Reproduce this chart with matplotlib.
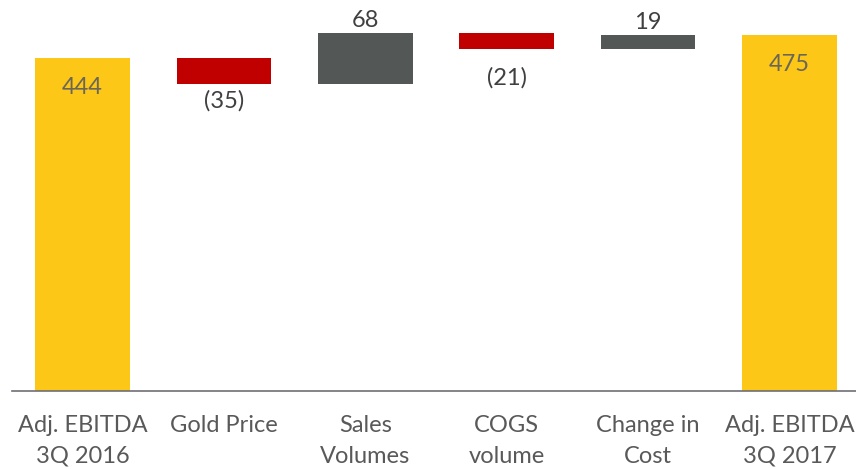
import matplotlib.pyplot as plt
import numpy as np

categories = ["Adj. EBITDA\n3Q 2016", "Gold Price", "Sales\nVolumes",
              "COGS\nvolume", "Change in\nCost", "Adj. EBITDA\n3Q 2017"]
start_total = 444
changes = [-35, 68, -21, 19]
end_total = 475
kinds = ["total", "delta", "delta", "delta", "delta", "total"]

YELLOW = "#FCC716"
RED = "#C00000"
GREY = "#535756"
TEXT = "#595959"

plt.rcParams["font.family"] = ["Lato", "DejaVu Sans"]

# waterfall geometry: bottoms and heights
values = [start_total] + changes + [end_total]
bottoms, heights, colors = [], [], []
running = 0
for v, k in zip(values, kinds):
    if k == "total":
        bottoms.append(0)
        heights.append(v)
        colors.append(YELLOW)
        running = v
    else:
        bottoms.append(min(running, running + v))
        heights.append(abs(v))
        colors.append(GREY if v > 0 else RED)
        running += v

fig = plt.figure(figsize=(8.56, 4.69), dpi=100)
ax = fig.add_axes([12 / 856, 78.3 / 469, 848 / 856, 390.7 / 469])
x = np.arange(len(categories))
ax.bar(x, heights, bottom=bottoms, width=0.672, color=colors)

ax.set_xlim(-0.5, len(categories) - 0.5)
ax.set_ylim(0, 521.4)
for s in ["top", "right", "left"]:
    ax.spines[s].set_visible(False)
ax.spines["bottom"].set_color("#6E6E76")
ax.spines["bottom"].set_linewidth(1.2)
ax.set_yticks([])
ax.set_xticks(x)
ax.set_xticklabels(categories, fontsize=17, color=TEXT, linespacing=1.58)
ax.tick_params(axis="x", length=0, pad=17.5)

# label gaps (data units) between bar edge and its value
gaps = [40, 8, 3, 24, 3, 40]

fs = 17
for i, (v, k) in enumerate(zip(values, kinds)):
    b, h = bottoms[i], heights[i]
    if k == "total":
        ax.text(i, b + h - gaps[i], f"{v}", ha="center", va="center",
                fontsize=fs, color="#6B6658")
    elif v > 0:
        ax.text(i, b + h + gaps[i], f"{v}", ha="center", va="bottom",
                fontsize=fs, color="#404040")
    else:
        ax.text(i, b - gaps[i], f"({abs(v)})", ha="center", va="top",
                fontsize=fs, color="#404040")

fig.savefig("out.png", dpi=100)
